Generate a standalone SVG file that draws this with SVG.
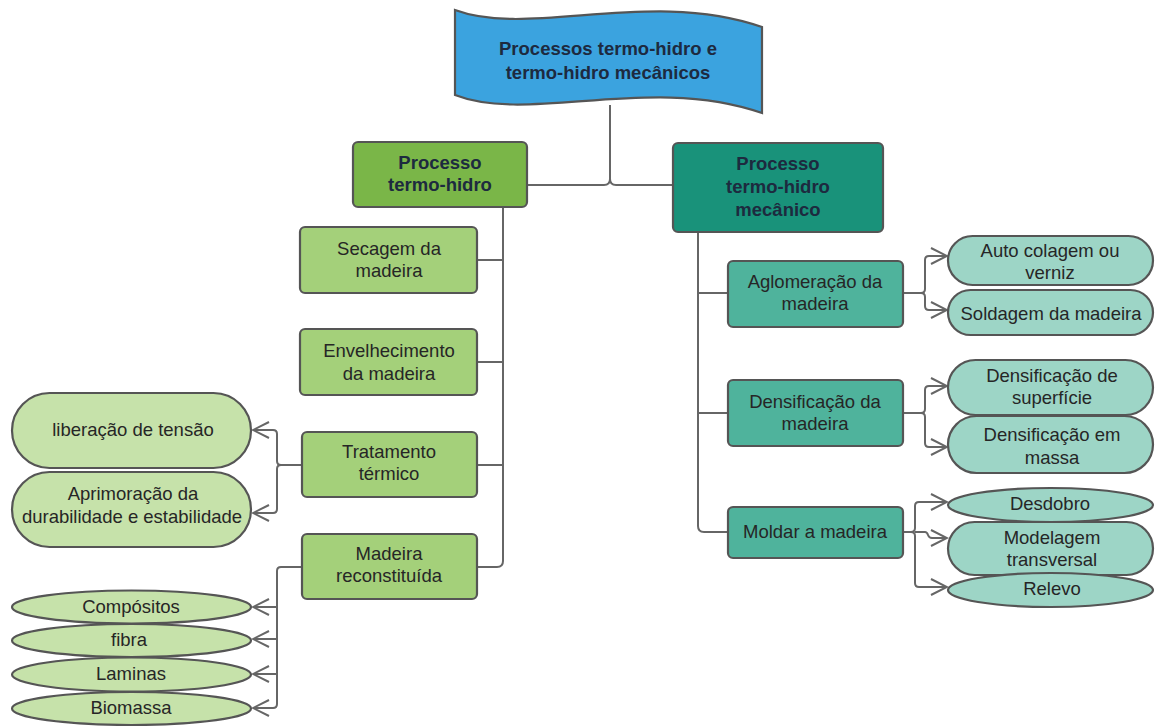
<svg xmlns="http://www.w3.org/2000/svg" width="1155" height="726" viewBox="0 0 1155 726">
<style>
text{font-family:"Liberation Sans",Arial,sans-serif;font-size:18.5px;fill:#262626;text-anchor:middle;dominant-baseline:central}
.b{font-weight:bold;fill:#1d2a3f}
.st{stroke:#555;stroke-width:2.2}
.c{fill:none;stroke:#666;stroke-width:2}
.g1{fill:#7ab648}
.g2{fill:#a4d07a}
.g3{fill:#c6e2aa}
.t1{fill:#19927a}
.t2{fill:#4fb39c}
.t3{fill:#9dd5c6}
</style>
<defs>
<marker id="a" markerUnits="userSpaceOnUse" markerWidth="20" markerHeight="20" refX="18" refY="9" orient="auto" viewBox="0 0 20 20">
<path d="M2,1 L18,9 L2,17" fill="none" stroke="#666" stroke-width="2"/>
</marker>
</defs>
<g id="connectors">
<path class="c" d="M610,105 L610,179 Q610,185 604,185 L527,185 M610,179 Q610,185 616,185 L673,185"/>
<path class="c" d="M503,207 L503,561 Q503,567 497,567 L477,567 M503,260 L477,260 M503,362 L477,362 M503,465 L477,465"/>
<path class="c" d="M698,232 L698,526 Q698,532 704,532 L728,532 M698,293 L728,293 M698,413 L728,413"/>
<path class="c" d="M302,465 L281,465 Q277,465 277,461 L277,434 Q277,430 273,430 L253,430" marker-end="url(#a)"/>
<path class="c" d="M281,465 Q277,465 277,469 L277,509 Q277,513 273,513 L253,513" marker-end="url(#a)"/>
<path class="c" d="M302,567 L281,567 Q277,567 277,571 L277,704 Q277,708 273,708 L253,708" marker-end="url(#a)"/>
<path class="c" d="M277,607 L253,607" marker-end="url(#a)"/>
<path class="c" d="M277,639 L253,639" marker-end="url(#a)"/>
<path class="c" d="M277,674 L253,674" marker-end="url(#a)"/>
<path class="c" d="M903,293 L921,293 Q925,293 925,289 L925,260 Q925,256 929,256 L947,256" marker-end="url(#a)"/>
<path class="c" d="M921,293 Q925,293 925,297 L925,306 Q925,310 929,310 L947,310" marker-end="url(#a)"/>
<path class="c" d="M903,413 L921,413 Q925,413 925,409 L925,390 Q925,386 929,386 L947,386" marker-end="url(#a)"/>
<path class="c" d="M921,413 Q925,413 925,417 L925,443 Q925,447 929,447 L947,447" marker-end="url(#a)"/>
<path class="c" d="M903,532 L911,532 Q915,532 915,528 L915,506 Q915,502 919,502 L947,502" marker-end="url(#a)"/>
<path class="c" d="M911,532 Q915,532 915,536 L915,583 Q915,587 919,587 L947,587" marker-end="url(#a)"/>
<path class="c" d="M915,532 L925,532 Q927,532 928,535 Q929,538 932,538 L947,538" marker-end="url(#a)"/>
</g>
<g id="root">
<path d="M455,10 C530,38 650,-12 762,27 L762,113 C650,74 530,124 455,95 Z" fill="#3ba3df" class="st"/>
<text class="b" x="608" y="48">Processos termo-hidro e</text>
<text class="b" x="608" y="72">termo-hidro mecânicos</text>
</g>
<g id="termo-hidro">
<rect x="353" y="142" width="174" height="65" rx="5" class="g1 st"/>
<text class="b" x="440" y="162">Processo</text>
<text class="b" x="440" y="184">termo-hidro</text>
</g>
<g id="termo-hidro-mecanico">
<rect x="673" y="143" width="210" height="89" rx="5" class="t1 st"/>
<text class="b" x="778" y="163">Processo</text>
<text class="b" x="778" y="186">termo-hidro</text>
<text class="b" x="778" y="209">mecânico</text>
</g>
<g id="secagem">
<rect x="300" y="227" width="177" height="66" rx="5" class="g2 st"/>
<text x="389" y="248">Secagem da</text>
<text x="389" y="270">madeira</text>
</g>
<g id="envelhecimento">
<rect x="300" y="329" width="177" height="66" rx="5" class="g2 st"/>
<text x="389" y="350">Envelhecimento</text>
<text x="389" y="373">da madeira</text>
</g>
<g id="tratamento">
<rect x="302" y="432" width="175" height="65" rx="5" class="g2 st"/>
<text x="389" y="451">Tratamento</text>
<text x="389" y="473">térmico</text>
</g>
<g id="reconstituida">
<rect x="302" y="534" width="175" height="65" rx="5" class="g2 st"/>
<text x="389" y="553">Madeira</text>
<text x="389" y="575">reconstituída</text>
</g>
<g id="liberacao">
<rect x="12" y="393" width="239" height="75" rx="37.5" class="g3 st"/>
<text x="133" y="429">liberação de tensão</text>
</g>
<g id="aprimoracao">
<rect x="12" y="472" width="239" height="75" rx="37.5" class="g3 st"/>
<text x="133" y="493">Aprimoração da</text>
<text x="132" y="516">durabilidade e estabilidade</text>
</g>
<g id="compositos">
<ellipse cx="131.5" cy="607" rx="119.5" ry="16.5" class="g3 st"/>
<text x="131" y="606">Compósitos</text>
</g>
<g id="fibra">
<ellipse cx="131.5" cy="640.5" rx="119.5" ry="16.5" class="g3 st"/>
<text x="129" y="639">fibra</text>
</g>
<g id="laminas">
<ellipse cx="131.5" cy="674.5" rx="119.5" ry="17" class="g3 st"/>
<text x="131" y="673">Laminas</text>
</g>
<g id="biomassa">
<ellipse cx="131.5" cy="708.5" rx="119.5" ry="16.5" class="g3 st"/>
<text x="131" y="707">Biomassa</text>
</g>
<g id="aglomeracao">
<rect x="728" y="261" width="175" height="66" rx="5" class="t2 st"/>
<text x="815" y="281">Aglomeração da</text>
<text x="815" y="303">madeira</text>
</g>
<g id="densificacao">
<rect x="728" y="380" width="175" height="66" rx="5" class="t2 st"/>
<text x="815" y="401">Densificação da</text>
<text x="815" y="423">madeira</text>
</g>
<g id="moldar">
<rect x="728" y="507" width="175" height="51" rx="5" class="t2 st"/>
<text x="815" y="531">Moldar a madeira</text>
</g>
<g id="auto-colagem">
<rect x="948" y="236" width="205" height="49" rx="24.5" class="t3 st"/>
<text x="1050" y="250">Auto colagem ou</text>
<text x="1050" y="272">verniz</text>
</g>
<g id="soldagem">
<rect x="948" y="290" width="205" height="45" rx="22.5" class="t3 st"/>
<text x="1051" y="313">Soldagem da madeira</text>
</g>
<g id="dens-superficie">
<rect x="948" y="360" width="205" height="55" rx="27.5" class="t3 st"/>
<text x="1052" y="375">Densificação de</text>
<text x="1052" y="397">superfície</text>
</g>
<g id="dens-massa">
<rect x="948" y="416" width="205" height="57" rx="28.5" class="t3 st"/>
<text x="1052" y="434">Densificação em</text>
<text x="1052" y="457">massa</text>
</g>
<g id="desdobro">
<ellipse cx="1050.5" cy="505" rx="102.5" ry="17" class="t3 st"/>
<text x="1050" y="503">Desdobro</text>
</g>
<g id="modelagem">
<rect x="948" y="522" width="205" height="53" rx="26.5" class="t3 st"/>
<text x="1052" y="537">Modelagem</text>
<text x="1052" y="559">transversal</text>
</g>
<g id="relevo">
<ellipse cx="1050.5" cy="590" rx="102.5" ry="17" class="t3 st"/>
<text x="1052" y="588">Relevo</text>
</g>
</svg>
